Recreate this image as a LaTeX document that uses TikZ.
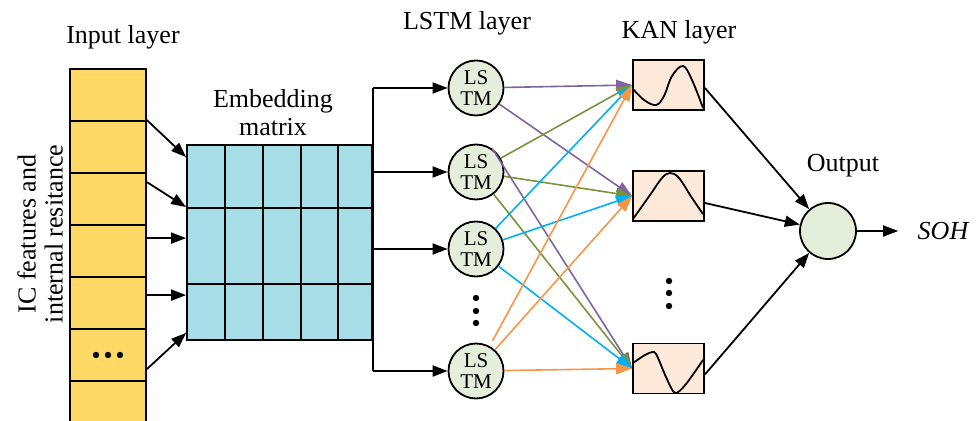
\documentclass[tikz,border=0pt]{standalone}
\usepackage{fontspec}
\setmainfont{Liberation Serif}
\usetikzlibrary{arrows.meta, calc}
\definecolor{inyellow}{HTML}{FFD966}
\definecolor{embblue}{HTML}{A7DDE7}
\definecolor{cellgreen}{HTML}{E4EEDB}
\definecolor{kanpeach}{HTML}{FDE9DA}
\definecolor{lpurple}{HTML}{8064A2}
\definecolor{lgreen}{HTML}{77933C}
\definecolor{lcyan}{HTML}{00B0F0}
\definecolor{lorange}{HTML}{F79646}

\begin{document}
\begin{tikzpicture}[x=0.5pt, y=-0.5pt, line width=0.9pt,
  font=\fontsize{13}{14}\selectfont,
  arr/.style={-{Triangle[length=7.5pt,width=5.5pt]}},
  carr/.style={line width=0.8pt, -{Triangle[length=8pt,width=5.5pt]}},
  incell/.style={draw, fill=inyellow, minimum width=38pt, minimum height=26pt, inner sep=0pt},
  lstm/.style={circle, draw, fill=cellgreen, minimum size=27.5pt, inner sep=0pt,
    align=center, font=\fontsize{10.5}{10.5}\selectfont},
  kan/.style={draw, fill=kanpeach, minimum width=35.5pt, minimum height=25pt, inner sep=0pt}]
  \useasboundingbox (0,0) rectangle (978,421);
  \clip (0,0) rectangle (978,421);
  % Input layer
  \foreach \i in {0,...,6}
    \node[incell] (in\i) at (108,{95+52*\i}) {};
  \foreach \d in {-12,0,12}
    \fill ($(in5)+(\d,0)$) circle (1.6pt);
  \node (inlab) at (123,37) {Input layer};
  \node[rotate=90, align=center, font=\fontsize{13}{13.5}\selectfont] (feat) at (40,234)
    {IC features and\\internal resitance};
  % Embedding matrix
  \node[draw, fill=embblue, minimum width=92.5pt, minimum height=97.5pt, inner sep=0pt]
    (emb) at (279.5,242.5) {};
  \foreach \x in {225,263,301,338}
    \draw (\x,145) -- (\x,340);
  \foreach \y in {208,284}
    \draw (187,\y) -- (372,\y);
  \node[align=center] (emblab) at (273,113) {Embedding\\matrix};
  \draw[arr] (in1.north east) -- ($(emb.north west)+(0,13)$);
  \draw[arr] ($(in2.north east)+(0,10)$) -- ($(emb.north west)+(0,63)$);
  \draw[arr] ($(in3.north east)+(0,14)$) -- ($(emb.north west)+(0,94)$);
  \draw[arr] ($(in4.north east)+(0,19)$) -- ($(emb.north west)+(0,151)$);
  \draw[arr] ($(in6.north east)+(0,-11)$) -- ($(emb.south west)+(0,-8)$);
  % LSTM layer
  \foreach \i/\y in {1/88,2/172,3/249,4/371}
    \node[lstm] (l\i) at (476,\y) {LS\\TM};
  \foreach \y in {298,311,323}
    \fill (476,\y) circle (1.6pt);
  \node (lstmlab) at (467,23) {LSTM layer};
  \draw (emb.east |- l1) -- (emb.east |- l4);
  \foreach \i in {1,...,4}
    \draw[arr] (emb.east |- l\i) -- (l\i);
  % KAN layer
  \foreach \i/\y in {1/85,2/196,3/368.5}
    \node[kan] (k\i) at (668.5,\y) {};
  \foreach \y in {281,293,306}
    \fill (669,\y) circle (1.6pt);
  \node (kanlab) at (679,32) {KAN layer};
  \draw plot[smooth, tension=0.6] coordinates
    {(633,89) (644,100) (656,105) (664,96) (672,76) (683,66) (692,80) (703,108)};
  \draw plot[smooth, tension=0.6] coordinates
    {(633,219) (650,195) (662,178) (670,173) (679,178) (692,198) (703,214)};
  \draw plot[smooth, tension=0.5] coordinates
    {(633,363) (645,355) (654,352) (658,358) (666,377) (675,393) (686,384) (703,360)};
  % Connections to KAN
  \draw[carr, lpurple] (l1) -- (k1.west);
  \draw[carr, lpurple] (l1) -- (k2.west);
  \draw[carr, lpurple] (l2.55) -- (k3.west);
  \draw[carr, lgreen] (l2) -- (k1.west);
  \draw[carr, lgreen] (l2) -- (k2.west);
  \draw[carr, lgreen] (l2) -- (k3.west);
  \draw[carr, lcyan] (l3) -- (k1.west);
  \draw[carr, lcyan] (l3) -- (k2.west);
  \draw[carr, lcyan] (l3) -- (k3.west);
  \draw[carr, lorange, shorten <=3pt] (l4) -- (k1.west);
  \draw[carr, lorange] (l4) -- (k2.west);
  \draw[carr, lorange] (l4) -- (k3.west);
  % Output
  \node[circle, draw, fill=cellgreen, minimum size=28pt, inner sep=0pt] (out) at (828,231) {};
  \node (outlab) at (843,166) {Output};
  \node[font=\fontsize{13}{14}\selectfont\itshape] (soh) at (943,231) {SOH};
  \draw[arr] ($(k1.east)+(0,3)$) -- (out);
  \draw[arr] ($(k2.east)+(0,7)$) -- (out);
  \draw[arr] ($(k3.east)+(0,6)$) -- (out);
  \draw[arr, shorten >=6pt] (out) -- (soh.west);
\end{tikzpicture}
\end{document}
